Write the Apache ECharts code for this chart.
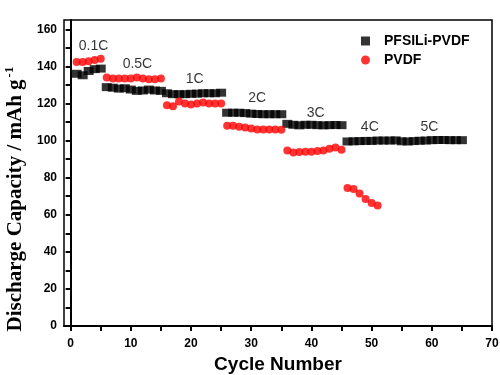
<!DOCTYPE html>
<html>
<head>
<meta charset="utf-8">
<script src="https://cdn.jsdelivr.net/npm/echarts@6/dist/echarts.min.js"></script>
<style>
  html, body { margin: 0; padding: 0; background: #fff; }
  #chart { width: 500px; height: 375px; }
</style>
</head>
<body>
<div id="chart"></div>
<script>
// cycle numbers
var cyclesA = [];
for (var i = 1; i <= 65; i++) cyclesA.push(i);
var cyclesB = [];
for (var j = 1; j <= 51; j++) cyclesB.push(j);

// PFSILi-PVDF, cycles 1-65
var capPFSILi = [
    136, 135.2, 137.5, 138.5, 138.8,
    128.8, 128.5, 128, 128.2, 127.5, 126.8, 127, 127.5, 127, 126.8,
    125.5, 125, 125, 125, 125.2, 125.3, 125.5, 125.5, 125.5, 125.8,
    115, 115, 115, 114.8, 114.5, 114.3, 114.2, 114.2, 114.2, 114.2,
    109, 108.5, 108.2, 108.5, 108.5, 108.3, 108.2, 108.3, 108.4, 108.3,
    99.5, 99.6, 99.7, 99.8, 99.8, 100, 100, 100, 100.1, 99.6,
    99.5, 99.7, 99.9, 100, 100.2, 100.3, 100.3, 100.2, 100.2, 100.2
]
// PVDF, cycles 1-51
var capPVDF = [
    142.3, 142.3, 142.8, 143.4, 144.1,
    134, 133.5, 133.5, 133.5, 133.5, 134, 133.5, 133, 133, 133.5,
    119, 118.5, 121, 120, 119.5, 120, 120.5, 120, 120, 120,
    108, 108, 107.5, 107, 106.5, 106, 106, 106, 106, 105.8,
    94.6, 93.5, 93.8, 94, 94, 94.4, 94.6, 95.6, 96.2, 95,
    74.4, 73.9, 71.4, 68.5, 66.3, 65
]
// rate labels and where they sit
var rateNames = ['0.1C', '0.5C', '1C', '2C', '3C', '4C', '5C'];
var rateX = [3.8, 11.1, 20.6, 31, 40.7, 49.7, 59.6];
var rateY = [151, 141, 133, 123, 115, 107.4, 107.4];

// ticks and tick labels
var xTicks = [0, 5, 10, 15, 20, 25, 30, 35, 40, 45, 50, 55, 60, 65, 70];
var xLabels = [0, 10, 20, 30, 40, 50, 60, 70];
var yTicks = [0, 10, 20, 30, 40, 50, 60, 70, 80, 90, 100, 110, 120, 130, 140, 150, 160];
var yLabels = [0, 20, 40, 60, 80, 100, 120, 140, 160];

var chart = echarts.init(document.getElementById('chart'));

var dataA = cyclesA.map(function (c, k) { return [c, capPFSILi[k]]; });
var dataB = cyclesB.map(function (c, k) { return [c, capPVDF[k]]; });
var rateData = rateNames.map(function (n, k) { return { name: n, value: [rateX[k], rateY[k]] }; });

var tickFont = { color: '#000', fontFamily: 'Liberation Sans', fontWeight: 'bold', fontSize: 12 };

chart.setOption({
    backgroundColor: '#fff',
    animation: false,
    grid: {
        left: 64, right: 8, top: 20, bottom: 49,
        outerBoundsMode: 'none',
        show: true, borderColor: '#000', borderWidth: 1.5
    },
    legend: {
        orient: 'vertical',
        left: 356, top: 29,
        itemWidth: 9, itemHeight: 9, itemGap: 5,
        textStyle: { color: '#000', fontFamily: 'Liberation Sans', fontWeight: 'bold', fontSize: 14, padding: [0, 0, 0, 9] },
        data: [
            { name: 'PFSILi-PVDF', icon: 'rect' },
            { name: 'PVDF', icon: 'circle' }
        ]
    },
    xAxis: {
        type: 'value',
        min: -1.1, max: 70,
        name: 'Cycle Number',
        nameLocation: 'middle',
        nameGap: 27,
        nameTextStyle: { color: '#000', fontFamily: 'Liberation Sans', fontWeight: 'bold', fontSize: 19 },
        axisLine: { lineStyle: { color: '#000', width: 2 } },
        axisTick: { show: true, length: 5, customValues: xTicks, lineStyle: { width: 2 } },
        axisLabel: Object.assign({ margin: 12, customValues: xLabels }, tickFont),
        splitLine: { show: false }
    },
    yAxis: {
        type: 'value',
        min: 0, max: 165,
        axisLine: { lineStyle: { color: '#000', width: 2 } },
        axisTick: { show: true, length: 5, customValues: yTicks, lineStyle: { width: 2 } },
        axisLabel: Object.assign({ margin: 7, customValues: yLabels }, tickFont),
        splitLine: { show: false }
    },
    graphic: [{
        type: 'text',
        x: 16, y: 199,
        rotation: Math.PI / 2,
        style: {
            text: '{t|Discharge Capacity / mAh g}{s|-1}',
            align: 'center',
            verticalAlign: 'middle',
            fill: '#000',
            rich: {
                t: { fontFamily: 'Liberation Serif', fontWeight: 'bold', fontSize: 21, fill: '#000' },
                s: { fontFamily: 'Liberation Serif', fontWeight: 'bold', fontSize: 13, fill: '#000', verticalAlign: 'top', padding: [0, 0, 12, 2] }
            }
        }
    }],
    series: [{
        name: 'PFSILi-PVDF',
        type: 'scatter',
        symbol: 'rect',
        symbolSize: [10, 8],
        itemStyle: { color: '#000' },
        data: dataA
    }, {
        name: 'PVDF',
        type: 'scatter',
        symbol: 'circle',
        symbolSize: 8,
        itemStyle: { color: '#ff0000' },
        data: dataB
    }, {
        name: 'rates',
        type: 'scatter',
        symbolSize: 0,
        silent: true,
        label: {
            show: true,
            position: 'inside',
            formatter: '{b}',
            color: '#000',
            fontFamily: 'Liberation Sans',
            fontSize: 14
        },
        data: rateData
    }]
});
</script>
</body>
</html>
